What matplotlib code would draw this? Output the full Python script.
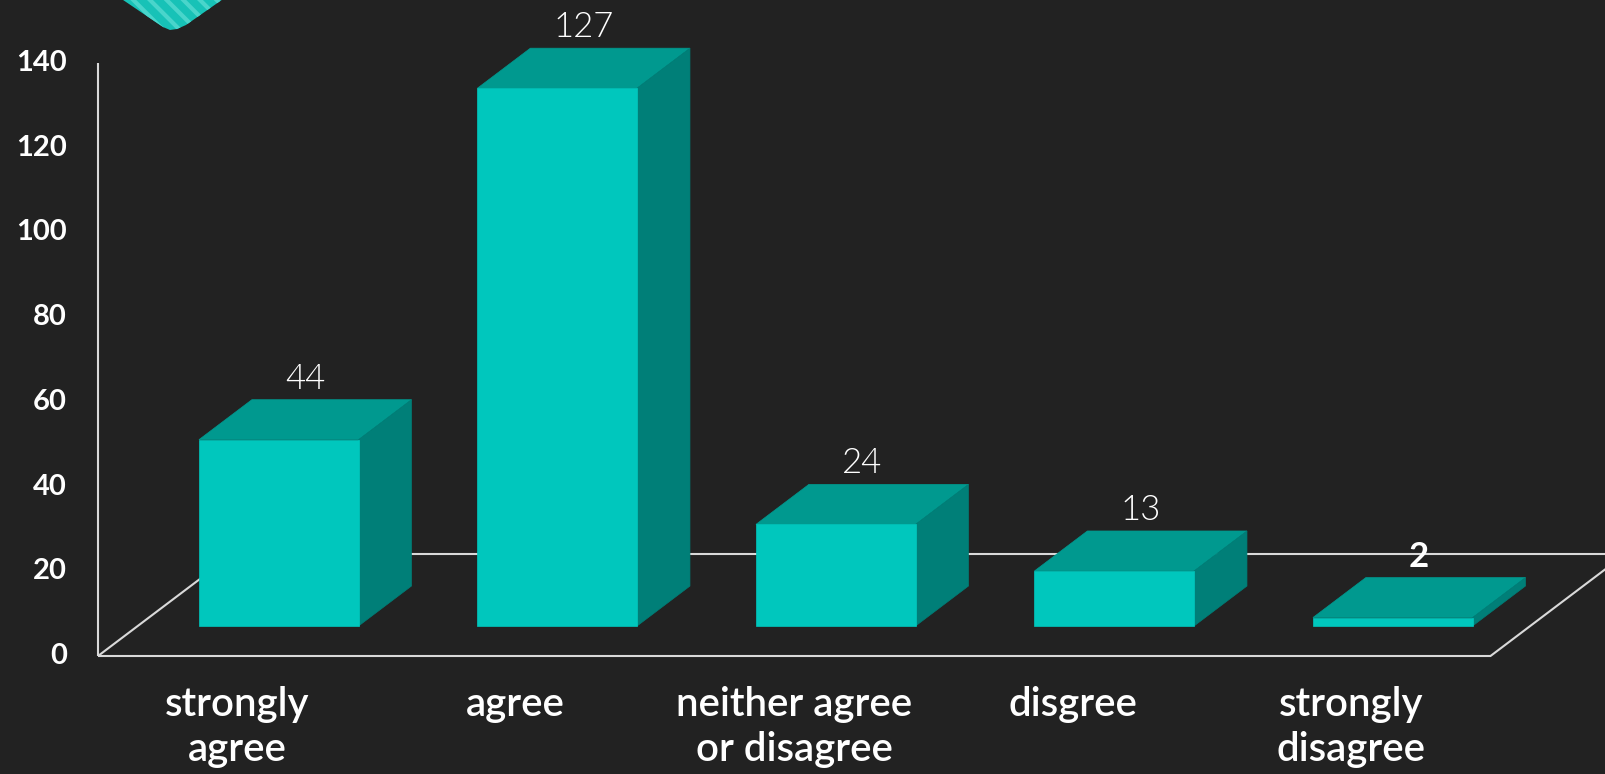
import matplotlib
matplotlib.use('Agg')
import matplotlib.pyplot as plt
from matplotlib.patches import Polygon

# ---- data ----
categories = ["strongly\nagree", "agree", "neither agree\nor disagree", "disgree", "strongly\ndisagree"]
values = [44, 127, 24, 13, 2]
value_bold = [False, False, False, False, True]
yticks = [0, 20, 40, 60, 80, 100, 120, 140]

# ---- style ----
BG = '#222222'
FRONT = '#00C7BD'
TOP = '#00998F'
SIDE = '#007F78'
LINE = '#D9D9D9'
FONT = ['Lato', 'DejaVu Sans']

W, H = 1605, 774
fig = plt.figure(figsize=(W / 100, H / 100), dpi=100)
fig.patch.set_facecolor(BG)
ax = fig.add_axes([0, 0, 1, 1])
ax.set_facecolor(BG)
ax.axis('off')

# axes scale: x in category units, y in value units (front floor plane)
X0PX, CATPX, Y0PX, UNITPX = 98, 278.5, 656, 4.235
ax.set_xlim(-X0PX / CATPX, (W - X0PX) / CATPX)
ax.set_ylim((Y0PX - H) / UNITPX, Y0PX / UNITPX)

DX = 135 / CATPX     # oblique depth shift (category units)
DY = 102 / UNITPX    # oblique depth shift (value units)
D_FRONT, D_BACK = 0.294, 0.686
GAP, BW = 0.22, 0.573
N = len(categories)
PT = 72 / 100  # points per pixel


def proj(c, v, d):
    return (c + d * DX, v + d * DY)


# ---- floor & axis lines ----
lw = 1.5
def seg(p, q, z=1):
    ax.plot([p[0], q[0]], [p[1], q[1]], color=LINE, lw=lw, zorder=z,
            solid_capstyle='butt', clip_on=False)

seg(proj(0, 0, 0), proj(N, 0, 0))
seg(proj(0, 0, 0), proj(0, 0, 1))
seg(proj(N, 0, 0), proj(N, 0, 1))
seg(proj(0, 0, 1), proj(N, 0, 1))
seg(proj(0, 0, 0), proj(0, yticks[-1], 0))

# ---- bars ----
for i, v in enumerate(values):
    c0, c1 = i + GAP, i + GAP + BW
    top = [proj(c0, v, D_FRONT), proj(c1, v, D_FRONT), proj(c1, v, D_BACK), proj(c0, v, D_BACK)]
    side = [proj(c1, 0, D_FRONT), proj(c1, 0, D_BACK), proj(c1, v, D_BACK), proj(c1, v, D_FRONT)]
    front = [proj(c0, 0, D_FRONT), proj(c1, 0, D_FRONT), proj(c1, v, D_FRONT), proj(c0, v, D_FRONT)]
    for poly, col in ((top, TOP), (side, SIDE), (front, FRONT)):
        ax.add_patch(Polygon(poly, closed=True, facecolor=col, edgecolor=col,
                             lw=0.5, zorder=3))
    lx, ly = proj((c0 + c1) / 2, v, (D_FRONT + D_BACK) / 2)
    ax.annotate(str(v), xy=(lx, ly), xytext=(0, 41 * PT), textcoords='offset points',
                ha='center', va='center', color='white', fontsize=25,
                family=FONT, fontweight='bold' if value_bold[i] else 300, zorder=5)

# ---- y tick labels ----
for t in yticks:
    ax.annotate(str(t), xy=proj(0, t, 0), xytext=(-31 * PT, 0), textcoords='offset points',
                ha='right', va='center', color='white', fontsize=21,
                family=FONT, fontweight='bold')

# ---- category labels ----
for i, lab in enumerate(categories):
    ax.annotate(lab, xy=proj(i + 0.5, 0, 0), xytext=(0, -30 * PT), textcoords='offset points',
                ha='center', va='top', color='white', fontsize=29,
                family=FONT, fontweight='semibold', linespacing=1.28)

# ---- decorative striped shape (top-left) ----
deco = [(95, -19), (163, 27), (170, 30), (177, 29), (186, 25), (236, -10), (236, -19)]
deco_fig = [(x / W, 1 - y / H) for x, y in deco]
plt.rcParams['hatch.linewidth'] = 3
fig.add_artist(Polygon(deco_fig, closed=True, transform=fig.transFigure,
                       facecolor='#17C2B7', edgecolor='#49D5CB', hatch='\\\\', lw=0))

fig.savefig('out.png', dpi=100, facecolor=BG)
